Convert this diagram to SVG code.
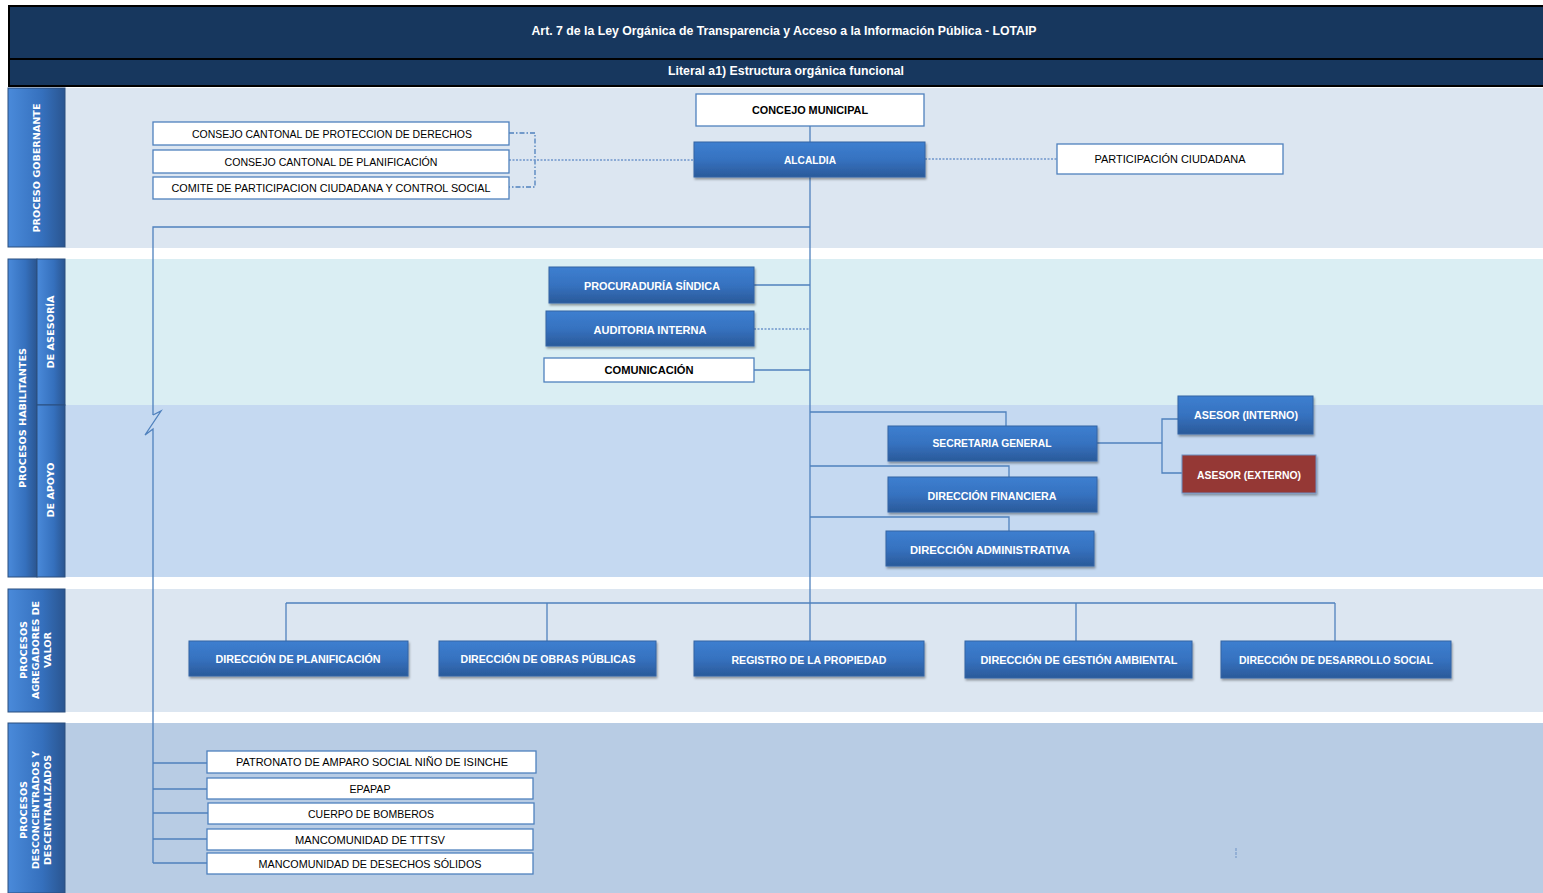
<svg xmlns="http://www.w3.org/2000/svg" width="1543" height="893" viewBox="0 0 1543 893">
<defs>
<linearGradient id="gb" x1="0" y1="0" x2="0" y2="1">
<stop offset="0" stop-color="#3d7fd0"/><stop offset="0.5" stop-color="#3672c0"/><stop offset="1" stop-color="#2a5a9a"/>
</linearGradient>
<linearGradient id="gs" x1="0" y1="0" x2="1" y2="0">
<stop offset="0" stop-color="#4a8ada"/><stop offset="0.6" stop-color="#3570bd"/><stop offset="1" stop-color="#2a5590"/>
</linearGradient>
<filter id="sh" x="-5%" y="-10%" width="110%" height="130%">
<feDropShadow dx="1" dy="2" stdDeviation="1" flood-color="#000" flood-opacity="0.35"/>
</filter>
</defs>
<style>
.hd{fill:#fff;font-family:"Liberation Sans",Arial,sans-serif;font-weight:bold;font-size:12px;text-anchor:middle}
.side{fill:url(#gs);stroke:#2b4f7e;stroke-width:1}
.st{fill:#fff;font-family:"DejaVu Sans","Liberation Sans",sans-serif;font-weight:bold;font-size:9px;text-anchor:middle}
.wb{fill:#fff;stroke:#4f81bd;stroke-width:1.3}
.bb{fill:url(#gb);stroke:#3465a4;stroke-width:1;filter:url(#sh)}
.rb{fill:#953735;stroke:#6f8fbf;stroke-width:1;filter:url(#sh)}
.t{font-family:"Liberation Sans",Arial,sans-serif;font-size:11px;text-anchor:middle;fill:#000}
.tb{font-family:"Liberation Sans",Arial,sans-serif;font-size:11px;font-weight:bold;text-anchor:middle;fill:#000}
.tw{font-family:"Liberation Sans",Arial,sans-serif;font-size:11px;font-weight:bold;text-anchor:middle;fill:#fff}
.ln{stroke:#4f81bd;stroke-width:1.3;fill:none}
.dl{stroke:#6f96cc;stroke-width:1.3;fill:none;stroke-dasharray:2 1.5}
.dd{stroke:#4f81bd;stroke-width:1.3;fill:none;stroke-dasharray:5 2 1.5 2}
</style>
<rect x="0" y="0" width="1543" height="893" fill="#fff"/>
<g id="header">
<rect x="9" y="6" width="1535" height="80" fill="#17375e" stroke="#000" stroke-width="2"/>
<line x1="9" y1="59" x2="1543" y2="59" stroke="#000" stroke-width="2"/>
<text class="hd" x="784" y="35" textLength="505" lengthAdjust="spacingAndGlyphs">Art. 7 de la Ley Orgánica de Transparencia y Acceso a la Información Pública - LOTAIP</text>
<text class="hd" x="786" y="75" textLength="236" lengthAdjust="spacingAndGlyphs">Literal a1) Estructura orgánica funcional</text>
</g>
<g id="lanes">
<rect x="65" y="88" width="1478" height="160" fill="#dce6f1"/>
<rect x="65" y="259" width="1478" height="146" fill="#daeef3"/>
<rect x="65" y="405" width="1478" height="172" fill="#c5d9f1"/>
<rect x="65" y="589" width="1478" height="123" fill="#dce6f1"/>
<rect x="65" y="723" width="1478" height="170" fill="#b8cce4"/>
<rect class="side" x="8" y="88" width="57" height="159"/>
<rect class="side" x="8" y="259" width="29" height="318"/>
<rect class="side" x="37" y="259" width="28" height="146"/>
<rect class="side" x="37" y="405" width="28" height="172"/>
<rect class="side" x="8" y="589" width="57" height="123"/>
<rect class="side" x="8" y="723" width="57" height="170"/>
<text class="st" transform="translate(40,168) rotate(-90)" textLength="129" lengthAdjust="spacingAndGlyphs">PROCESO GOBERNANTE</text>
<text class="st" transform="translate(26,418) rotate(-90)" textLength="140" lengthAdjust="spacingAndGlyphs">PROCESOS HABILITANTES</text>
<text class="st" transform="translate(54,332) rotate(-90)" textLength="73" lengthAdjust="spacingAndGlyphs">DE ASESORÍA</text>
<text class="st" transform="translate(54,490) rotate(-90)" textLength="55" lengthAdjust="spacingAndGlyphs">DE APOYO</text>
<text class="st" transform="translate(27,650) rotate(-90)" textLength="58" lengthAdjust="spacingAndGlyphs">PROCESOS</text>
<text class="st" transform="translate(39,650) rotate(-90)" textLength="98" lengthAdjust="spacingAndGlyphs">AGREGADORES DE</text>
<text class="st" transform="translate(51,650) rotate(-90)" textLength="36" lengthAdjust="spacingAndGlyphs">VALOR</text>
<text class="st" transform="translate(27,810) rotate(-90)" textLength="58" lengthAdjust="spacingAndGlyphs">PROCESOS</text>
<text class="st" transform="translate(39,810) rotate(-90)" textLength="118" lengthAdjust="spacingAndGlyphs">DESCONCENTRADOS Y</text>
<text class="st" transform="translate(51,810) rotate(-90)" textLength="110" lengthAdjust="spacingAndGlyphs">DESCENTRALIZADOS</text>
</g>
<g id="connectors">
<line class="ln" x1="810" y1="126" x2="810" y2="142"/>
<line class="ln" x1="810" y1="177" x2="810" y2="641"/>
<polyline class="dd" points="509,133 535,133 535,187 509,187"/>
<line class="dl" x1="509" y1="160" x2="694" y2="160"/>
<line class="dl" x1="925" y1="159" x2="1057" y2="159"/>
<polyline class="ln" points="810,227 153,227 153,415"/>
<polyline class="ln" points="153,415 161,411 145,435 153,429 153,863"/>
<line class="ln" x1="754" y1="285" x2="810" y2="285"/>
<line class="dl" x1="754" y1="329" x2="810" y2="329"/>
<line class="ln" x1="754" y1="370" x2="810" y2="370"/>
<polyline class="ln" points="810,412 1006,412 1006,426"/>
<polyline class="ln" points="810,466 1009,466 1009,477"/>
<polyline class="ln" points="810,517 1009,517 1009,531"/>
<polyline class="ln" points="1097,443 1162,443"/>
<polyline class="ln" points="1178,419 1162,419 1162,473 1182,473"/>
<line class="ln" x1="286" y1="603" x2="1335" y2="603"/>
<line class="ln" x1="286" y1="603" x2="286" y2="641"/>
<line class="ln" x1="547" y1="603" x2="547" y2="641"/>
<line class="ln" x1="1076" y1="603" x2="1076" y2="641"/>
<line class="ln" x1="1335" y1="603" x2="1335" y2="641"/>
<line class="ln" x1="153" y1="763" x2="207" y2="763"/>
<line class="ln" x1="153" y1="789" x2="207" y2="789"/>
<line class="ln" x1="153" y1="813" x2="208" y2="813"/>
<line class="ln" x1="153" y1="839" x2="207" y2="839"/>
<line class="ln" x1="153" y1="863" x2="207" y2="863"/>
<line x1="1236" y1="848" x2="1236" y2="858" stroke="#6f93c6" stroke-width="1" stroke-dasharray="3 1"/>
</g>
<g id="n-concejo"><rect class="wb" x="696" y="94" width="228" height="32"/><text class="tb" x="810" y="114" textLength="116" lengthAdjust="spacingAndGlyphs">CONCEJO MUNICIPAL</text></g>
<g id="n-alcaldia"><rect class="bb" x="694" y="142" width="231" height="35"/><text class="tw" x="810" y="164" textLength="52" lengthAdjust="spacingAndGlyphs">ALCALDIA</text></g>
<g id="n-participacion"><rect class="wb" x="1057" y="144" width="226" height="30"/><text class="t" x="1170" y="163" textLength="151" lengthAdjust="spacingAndGlyphs">PARTICIPACIÓN CIUDADANA</text></g>
<g id="n-ccpd"><rect class="wb" x="153" y="122" width="356" height="23"/><text class="t" x="332" y="138" textLength="280" lengthAdjust="spacingAndGlyphs">CONSEJO CANTONAL DE PROTECCION DE DERECHOS</text></g>
<g id="n-ccp"><rect class="wb" x="153" y="150" width="356" height="23"/><text class="t" x="331" y="166" textLength="213" lengthAdjust="spacingAndGlyphs">CONSEJO CANTONAL DE PLANIFICACIÓN</text></g>
<g id="n-comite"><rect class="wb" x="153" y="177" width="356" height="22"/><text class="t" x="331" y="192" textLength="319" lengthAdjust="spacingAndGlyphs">COMITE DE PARTICIPACION CIUDADANA Y CONTROL SOCIAL</text></g>
<g id="n-procuraduria"><rect class="bb" x="549" y="267" width="205" height="36"/><text class="tw" x="652" y="290" textLength="136" lengthAdjust="spacingAndGlyphs">PROCURADURÍA SÍNDICA</text></g>
<g id="n-auditoria"><rect class="bb" x="546" y="311" width="208" height="35"/><text class="tw" x="650" y="334" textLength="113" lengthAdjust="spacingAndGlyphs">AUDITORIA INTERNA</text></g>
<g id="n-comunicacion"><rect class="wb" x="544" y="358" width="210" height="24"/><text class="tb" x="649" y="374" textLength="89" lengthAdjust="spacingAndGlyphs">COMUNICACIÓN</text></g>
<g id="n-secretaria"><rect class="bb" x="888" y="426" width="209" height="35"/><text class="tw" x="992" y="447" textLength="119" lengthAdjust="spacingAndGlyphs">SECRETARIA GENERAL</text></g>
<g id="n-financiera"><rect class="bb" x="888" y="477" width="209" height="35"/><text class="tw" x="992" y="500" textLength="129" lengthAdjust="spacingAndGlyphs">DIRECCIÓN FINANCIERA</text></g>
<g id="n-administrativa"><rect class="bb" x="886" y="531" width="208" height="35"/><text class="tw" x="990" y="554" textLength="160" lengthAdjust="spacingAndGlyphs">DIRECCIÓN ADMINISTRATIVA</text></g>
<g id="n-asesor-int"><rect class="bb" x="1178" y="396" width="135" height="38"/><text class="tw" x="1246" y="419" textLength="104" lengthAdjust="spacingAndGlyphs">ASESOR (INTERNO)</text></g>
<g id="n-asesor-ext"><rect class="rb" x="1182" y="455" width="134" height="38"/><text class="tw" x="1249" y="479" textLength="104" lengthAdjust="spacingAndGlyphs">ASESOR (EXTERNO)</text></g>
<g id="n-planificacion"><rect class="bb" x="189" y="641" width="219" height="35"/><text class="tw" x="298" y="663" textLength="165" lengthAdjust="spacingAndGlyphs">DIRECCIÓN DE PLANIFICACIÓN</text></g>
<g id="n-obras"><rect class="bb" x="439" y="641" width="217" height="35"/><text class="tw" x="548" y="663" textLength="175" lengthAdjust="spacingAndGlyphs">DIRECCIÓN DE OBRAS PÚBLICAS</text></g>
<g id="n-registro"><rect class="bb" x="694" y="641" width="230" height="35"/><text class="tw" x="809" y="664" textLength="155" lengthAdjust="spacingAndGlyphs">REGISTRO DE LA PROPIEDAD</text></g>
<g id="n-ambiental"><rect class="bb" x="965" y="641" width="227" height="37"/><text class="tw" x="1079" y="664" textLength="197" lengthAdjust="spacingAndGlyphs">DIRECCIÓN DE GESTIÓN AMBIENTAL</text></g>
<g id="n-social"><rect class="bb" x="1221" y="641" width="230" height="37"/><text class="tw" x="1336" y="664" textLength="194" lengthAdjust="spacingAndGlyphs">DIRECCIÓN DE DESARROLLO SOCIAL</text></g>
<g id="n-patronato"><rect class="wb" x="207" y="751" width="329" height="22"/><text class="t" x="372" y="766" textLength="272" lengthAdjust="spacingAndGlyphs">PATRONATO DE AMPARO SOCIAL NIÑO DE ISINCHE</text></g>
<g id="n-epapap"><rect class="wb" x="207" y="778" width="326" height="21"/><text class="t" x="370" y="793" textLength="41" lengthAdjust="spacingAndGlyphs">EPAPAP</text></g>
<g id="n-bomberos"><rect class="wb" x="208" y="803" width="326" height="21"/><text class="t" x="371" y="818" textLength="126" lengthAdjust="spacingAndGlyphs">CUERPO DE BOMBEROS</text></g>
<g id="n-tttsv"><rect class="wb" x="207" y="829" width="326" height="21"/><text class="t" x="370" y="844" textLength="150" lengthAdjust="spacingAndGlyphs">MANCOMUNIDAD DE TTTSV</text></g>
<g id="n-desechos"><rect class="wb" x="207" y="853" width="326" height="21"/><text class="t" x="370" y="868" textLength="223" lengthAdjust="spacingAndGlyphs">MANCOMUNIDAD DE DESECHOS SÓLIDOS</text></g>
</svg>
